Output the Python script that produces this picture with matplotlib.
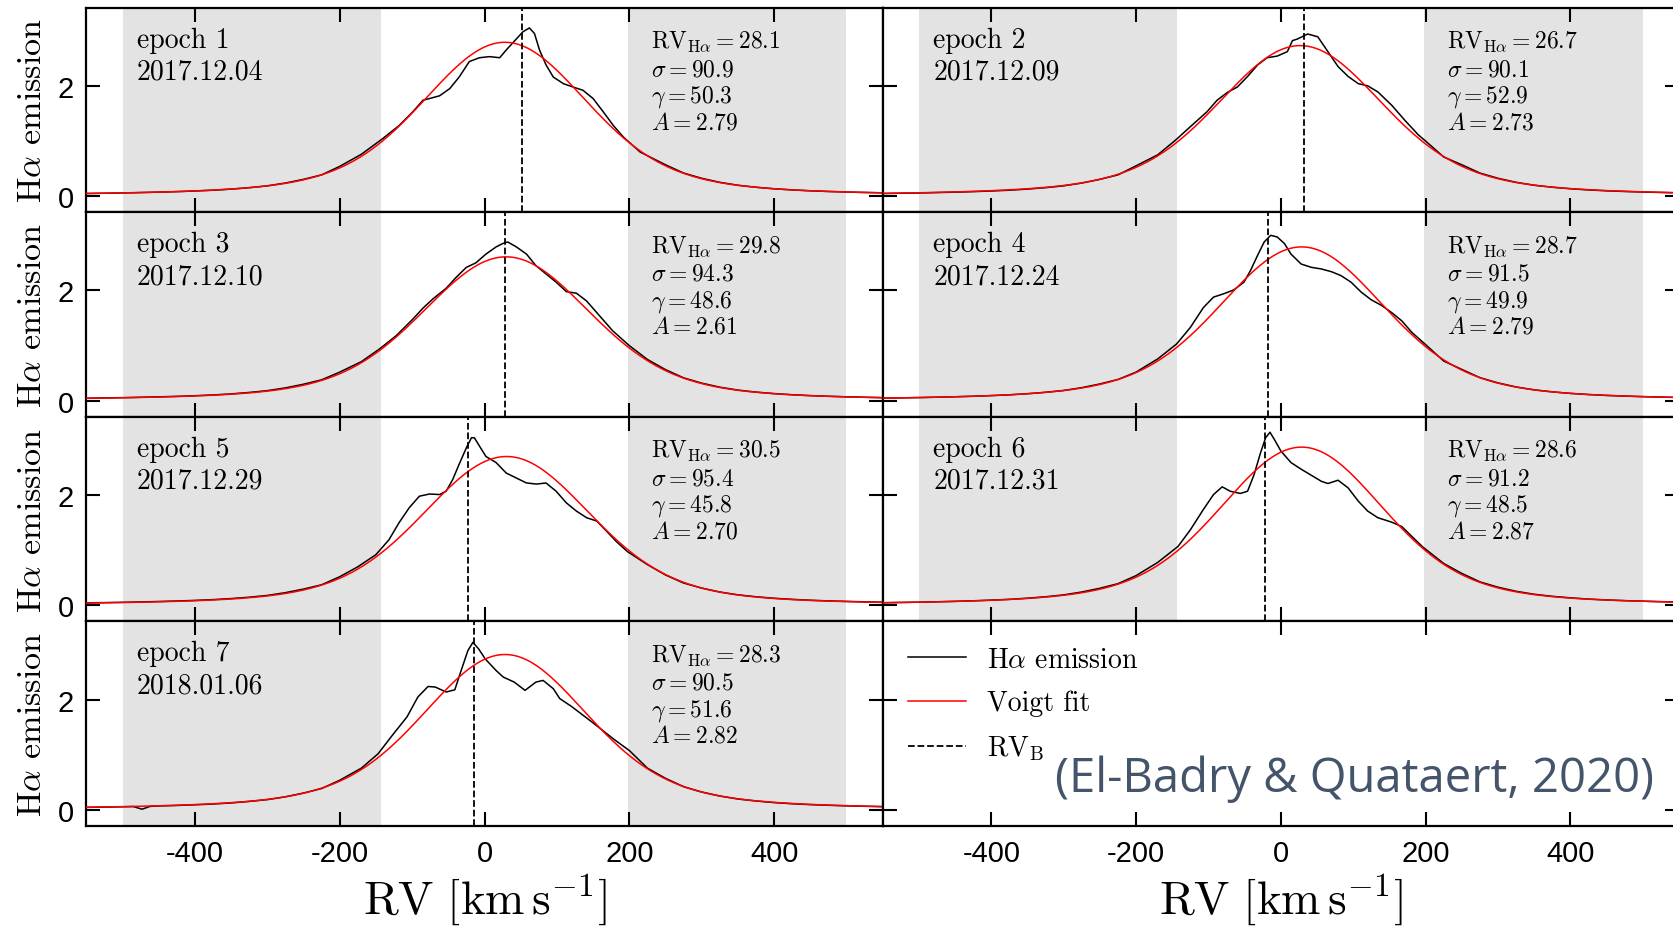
import numpy as np
import matplotlib.pyplot as plt
import matplotlib.transforms as mtransforms
from matplotlib.lines import Line2D

plt.rcParams['font.family'] = 'Liberation Sans'
plt.rcParams['mathtext.fontset'] = 'cm'
plt.rcParams['axes.unicode_minus'] = False

# 每个历元的标签与观测日期
epochs = ['epoch 1', 'epoch 2', 'epoch 3', 'epoch 4', 'epoch 5', 'epoch 6', 'epoch 7']
dates = ['2017.12.04', '2017.12.09', '2017.12.10', '2017.12.24',
         '2017.12.29', '2017.12.31', '2018.01.06']

# Voigt 拟合参数
rv_halpha = [28.1, 26.7, 29.8, 28.7, 30.5, 28.6, 28.3]
sigma = [90.9, 90.1, 94.3, 91.5, 95.4, 91.2, 90.5]
gamma = [50.3, 52.9, 48.6, 49.9, 45.8, 48.5, 51.6]
amp = [2.79, 2.73, 2.61, 2.79, 2.70, 2.87, 2.82]

# B 星视向速度 (虚线)
rv_b = [52, 32, 28, -18, -23, -22, -14]

# 拟合使用的速度区间 (灰色)
fit_left = (-500, -143)
fit_right = (198, 500)

# Hα 发射线轮廓: 两翼采样点 + 线心采样点
wing_rv_l = [-550, -525, -500, -475, -450, -425, -400, -375, -350, -325, -300, -275, -250, -225]
wing_rv_r = [250, 275, 300, 325, 350, 375, 400, 425, 450, 475, 500, 525, 550]

rv1 = wing_rv_l + [-200, -170, -141, -118, -99, -85, -76, -62, -48, -35, -21, -7, 7, 21, 30,
                   44, 53, 62, 69, 76, 85, 95, 109, 122, 136, 150, 164, 178, 192, 215] + wing_rv_r
fl1 = ([0.048, 0.053, 0.058, 0.065, 0.073, 0.082, 0.094, 0.108, 0.128, 0.154, 0.187, 0.238,
        0.305, 0.386]
       + [0.54, 0.76, 1.04, 1.28, 1.53, 1.74, 1.77, 1.82, 1.95, 2.16, 2.44, 2.51, 2.53, 2.51,
          2.65, 2.85, 2.98, 3.05, 2.95, 2.65, 2.38, 2.16, 2.04, 1.98, 1.92, 1.77, 1.53, 1.28,
          1.07, 0.80]
       + [0.569, 0.419, 0.324, 0.251, 0.198, 0.162, 0.134, 0.113, 0.097, 0.085, 0.075, 0.067,
          0.060])

rv2 = wing_rv_l + [-200, -170, -146, -125, -102, -88, -74, -60, -46, -32, -19, -5, 9, 16, 23,
                   37, 51, 65, 79, 93, 107, 120, 134, 153, 171, 190, 199, 225] + wing_rv_r
fl2 = ([0.048, 0.053, 0.058, 0.065, 0.073, 0.082, 0.094, 0.108, 0.128, 0.154, 0.187, 0.238,
        0.305, 0.386]
       + [0.55, 0.75, 1.01, 1.26, 1.53, 1.74, 1.88, 1.98, 2.17, 2.38, 2.51, 2.54, 2.62, 2.82,
          2.85, 2.94, 2.89, 2.62, 2.35, 2.17, 2.04, 2.00, 1.89, 1.65, 1.38, 1.11, 1.01, 0.71]
       + [0.569, 0.419, 0.324, 0.251, 0.198, 0.162, 0.134, 0.113, 0.097, 0.085, 0.075, 0.067,
          0.060])

rv3 = wing_rv_l + [-200, -170, -145, -122, -99, -85, -71, -53, -39, -25, -12, 2, 16, 25, 32,
                   44, 58, 71, 85, 99, 113, 127, 141, 159, 177, 200, 225] + wing_rv_r
fl3 = ([0.047, 0.052, 0.057, 0.064, 0.072, 0.080, 0.092, 0.106, 0.125, 0.151, 0.184, 0.234,
        0.300, 0.380]
       + [0.52, 0.71, 0.94, 1.18, 1.48, 1.68, 1.85, 2.04, 2.24, 2.42, 2.50, 2.66, 2.79, 2.85,
          2.88, 2.79, 2.66, 2.45, 2.30, 2.15, 1.98, 1.95, 1.81, 1.54, 1.27, 1.00, 0.75]
       + [0.565, 0.416, 0.320, 0.247, 0.194, 0.158, 0.131, 0.110, 0.094, 0.082, 0.072, 0.064,
          0.057])

rv4 = wing_rv_l + [-200, -170, -144, -125, -107, -93, -79, -65, -51, -42, -32, -23, -14, -5, 5,
                   14, 28, 42, 56, 70, 83, 97, 111, 125, 139, 153, 167, 181, 199, 225] + wing_rv_r
fl4 = ([0.048, 0.053, 0.058, 0.065, 0.073, 0.082, 0.094, 0.108, 0.128, 0.154, 0.187, 0.238,
        0.305, 0.386]
       + [0.52, 0.76, 1.03, 1.33, 1.69, 1.88, 1.94, 2.01, 2.15, 2.36, 2.64, 2.88, 3.00, 2.97,
          2.85, 2.66, 2.48, 2.42, 2.39, 2.34, 2.27, 2.15, 1.97, 1.83, 1.73, 1.60, 1.45, 1.24,
          1.03, 0.72]
       + [0.569, 0.419, 0.324, 0.251, 0.198, 0.162, 0.134, 0.113, 0.097, 0.085, 0.075, 0.067,
          0.060])

rv5 = wing_rv_l + [-200, -175, -150, -132, -118, -104, -90, -76, -62, -53, -44, -35, -25, -18,
                   -14, -7, 2, 16, 30, 44, 58, 72, 85, 99, 113, 127, 141, 155, 169, 182, 197,
                   225] + wing_rv_r
fl5 = ([0.047, 0.051, 0.056, 0.063, 0.071, 0.080, 0.091, 0.105, 0.124, 0.149, 0.181, 0.231,
        0.296, 0.374]
       + [0.52, 0.70, 0.92, 1.19, 1.50, 1.77, 1.98, 2.02, 2.01, 2.07, 2.28, 2.56, 2.86, 3.04,
          3.04, 2.89, 2.70, 2.59, 2.40, 2.31, 2.22, 2.20, 2.22, 2.07, 1.86, 1.71, 1.59, 1.53,
          1.34, 1.16, 0.98, 0.74]
       + [0.552, 0.406, 0.314, 0.243, 0.192, 0.157, 0.130, 0.110, 0.094, 0.082, 0.073, 0.065,
          0.058])

rv6 = wing_rv_l + [-200, -170, -142, -125, -107, -93, -81, -70, -56, -46, -37, -28, -21, -15,
                   -9, 0, 14, 28, 42, 56, 65, 79, 93, 107, 120, 134, 153, 167, 181, 196,
                   225] + wing_rv_r
fl6 = ([0.049, 0.054, 0.059, 0.066, 0.074, 0.084, 0.096, 0.110, 0.131, 0.157, 0.191, 0.243,
        0.311, 0.394]
       + [0.54, 0.78, 1.07, 1.37, 1.74, 2.01, 2.15, 2.07, 2.03, 2.07, 2.37, 2.77, 3.04, 3.14,
          3.01, 2.80, 2.59, 2.47, 2.36, 2.25, 2.21, 2.27, 2.13, 1.89, 1.71, 1.59, 1.51, 1.43,
          1.25, 1.06, 0.76]
       + [0.580, 0.427, 0.330, 0.256, 0.202, 0.165, 0.137, 0.115, 0.099, 0.087, 0.077, 0.068,
          0.061])

rv7 = ([-550, -525, -500, -485, -473, -462, -450, -425, -400, -375, -350, -325, -300, -275,
        -250, -225]
       + [-200, -170, -147, -127, -107, -92, -78, -68, -53, -41, -33, -23, -16, -8, 1, 16, 26,
          41, 56, 71, 81, 95, 104, 120, 150, 180, 200, 225] + wing_rv_r)
fl7 = ([0.048, 0.053, 0.059, 0.063, 0.015, 0.066, 0.074, 0.083, 0.095, 0.109, 0.129, 0.156,
        0.189, 0.240, 0.308, 0.390]
       + [0.54, 0.76, 1.02, 1.36, 1.69, 2.05, 2.24, 2.23, 2.14, 2.18, 2.50, 2.89, 3.04, 2.92,
          2.74, 2.53, 2.41, 2.32, 2.17, 2.32, 2.35, 2.20, 2.02, 1.88, 1.58, 1.27, 1.08, 0.76]
       + [0.575, 0.423, 0.327, 0.254, 0.200, 0.164, 0.135, 0.114, 0.098, 0.086, 0.076, 0.068,
          0.061])

rv_list = [rv1, rv2, rv3, rv4, rv5, rv6, rv7]
flux_list = [fl1, fl2, fl3, fl4, fl5, fl6, fl7]


def voigt(v, center, sig, gam, peak):
    # 高斯与洛伦兹的数值卷积, 峰值归一到 peak
    u = np.linspace(-6 * sig, 6 * sig, 1201)
    g = np.exp(-0.5 * (u / sig) ** 2)
    d = v[:, None] - center - u[None, :]
    prof = (g[None, :] * gam / (d ** 2 + gam ** 2)).sum(axis=1)
    p0 = (g * gam / (u ** 2 + gam ** 2)).sum()
    return peak * prof / p0


v_grid = np.linspace(-550, 550, 1101)
serif = 'cmr10'

fig = plt.figure(figsize=(16.73, 9.28), dpi=100)
gs = fig.add_gridspec(4, 2, left=0.0516, right=1.0036, top=0.9908, bottom=0.1088,
                      wspace=0, hspace=0)
axes = [fig.add_subplot(gs[i // 2, i % 2]) for i in range(8)]

for i, ax in enumerate(axes):
    ax.set_xlim(-550, 550)
    ax.set_ylim(-0.29, 3.42)
    ax.set_xticks([-400, -200, 0, 200, 400])
    ax.set_yticks([0, 2])
    ax.tick_params(direction='in', top=True, right=True, length=10, width=1.5,
                   labelsize=21, pad=9)
    for sp in ax.spines.values():
        sp.set_linewidth(1.6)
    if i % 2 == 1:
        ax.tick_params(labelleft=False)
    if i < 6:
        ax.tick_params(labelbottom=False)
    else:
        ax.set_xlabel(r'$\rm RV\ [km\,s^{-1}]$', fontsize=34)
        ax.xaxis.set_label_coords(0.5, -0.225)
    if i % 2 == 0:
        ax.set_ylabel(r'H$\alpha$ emission', fontsize=24.5, family=serif)
        ax.yaxis.set_label_coords(-0.049, 0.5)

    if i == 7:
        continue

    ax.axvspan(*fit_left, color='#e3e3e3', lw=0, zorder=0)
    ax.axvspan(*fit_right, color='#e3e3e3', lw=0, zorder=0)
    ax.plot(rv_list[i], flux_list[i], color='black', lw=1.1, zorder=2)
    model = voigt(v_grid, rv_halpha[i], sigma[i], gamma[i], amp[i])
    ax.plot(v_grid, model, color='red', lw=1.1, zorder=3)
    ax.axvline(rv_b[i], color='black', ls='--', lw=1.3, zorder=4)

    trans = mtransforms.blended_transform_factory(ax.transData, ax.transAxes)
    ax.text(-480, 0.809, epochs[i], transform=trans, fontsize=20, family=serif,
            va='baseline')
    ax.text(-480, 0.653, dates[i], transform=trans, fontsize=20, family=serif,
            va='baseline')
    params = [r'$\rm RV_{H\alpha} = %.1f$' % rv_halpha[i],
              r'$\sigma = %.1f$' % sigma[i],
              r'$\gamma = %.1f$' % gamma[i],
              r'$A = %.2f$' % amp[i]]
    for txt, yy in zip(params, [0.802, 0.670, 0.541, 0.411]):
        ax.text(230, yy, txt, transform=trans, fontsize=17, va='baseline')

# 图例面板
ax = axes[7]
handles = [Line2D([], [], color='black', lw=1.1),
           Line2D([], [], color='red', lw=1.1),
           Line2D([], [], color='black', lw=1.3, ls='--')]
labels = [r'H$\alpha$ emission', 'Voigt fit', r'RV$_{\rm B}$']
ax.legend(handles, labels, loc='upper left', bbox_to_anchor=(0.0, 1.0), frameon=False,
          prop={'family': serif, 'size': 20}, handlelength=2.1, handletextpad=0.75,
          labelspacing=0.62, borderaxespad=0.5)
ax.text(0.9687, 0.234, '(El-Badry & Quataert, 2020)', transform=ax.transAxes,
        fontsize=34, family='Open Sans', color='#44546A', ha='right', va='center')

fig.savefig('out.png', dpi=100)
